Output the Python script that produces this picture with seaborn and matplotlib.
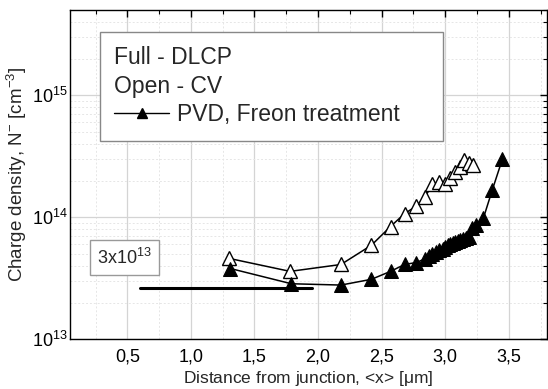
import numpy as np
import pandas as pd
import matplotlib
matplotlib.use("Agg")
import matplotlib.pyplot as plt
import seaborn as sns
from matplotlib.lines import Line2D
from matplotlib.ticker import MultipleLocator, LogLocator, NullFormatter, FuncFormatter

# CV data (open triangles)
cv_x = [1.30, 1.78, 2.18, 2.42, 2.57, 2.68, 2.77, 2.84, 2.90, 2.95, 3.00, 3.04, 3.08, 3.12, 3.15, 3.19, 3.22]
cv_n = [4.6e13, 3.6e13, 4.1e13, 5.9e13, 8.4e13, 1.07e14, 1.23e14, 1.46e14, 1.86e14, 1.96e14,
        1.86e14, 2.09e14, 2.37e14, 2.6e14, 2.96e14, 2.78e14, 2.69e14]

# DLCP data (filled triangles)
dlcp_x = [1.31, 1.79, 2.18, 2.42, 2.57, 2.68, 2.77, 2.84, 2.87, 2.90, 2.93, 2.95, 2.98, 3.00, 3.02,
          3.04, 3.06, 3.08, 3.10, 3.12, 3.14, 3.16, 3.19, 3.21, 3.24, 3.30, 3.37, 3.45]
dlcp_n = [3.8e13, 2.85e13, 2.78e13, 3.1e13, 3.6e13, 4.1e13, 4.25e13, 4.55e13, 4.8e13, 5.0e13, 5.2e13,
          5.35e13, 5.5e13, 5.7e13, 5.9e13, 6.05e13, 6.2e13, 6.3e13, 6.4e13, 6.5e13, 6.6e13, 6.8e13,
          6.9e13, 8.1e13, 8.6e13, 9.8e13, 1.67e14, 3.0e14]

# reference level line
ref_x = [0.6, 1.95]
ref_n = [2.65e13, 2.65e13]

sns.set_theme(style="white")
plt.rcParams['font.family'] = ['Liberation Sans', 'DejaVu Sans']
plt.rcParams['mathtext.default'] = 'regular'

fig = plt.figure(figsize=(5.48, 3.89), dpi=100)
ax = fig.add_axes([0.128, 0.128, 0.870, 0.846])

sns.lineplot(x=ref_x, y=ref_n, ax=ax, color='black', linewidth=2.2, estimator=None, sort=False)
sns.lineplot(x=cv_x, y=cv_n, ax=ax, color='black', linewidth=1.1, marker='^', markersize=10,
             markerfacecolor='white', markeredgecolor='black', markeredgewidth=1.0,
             estimator=None, sort=False)
sns.lineplot(x=dlcp_x, y=dlcp_n, ax=ax, color='black', linewidth=1.1, marker='^', markersize=10,
             markerfacecolor='black', markeredgecolor='black', estimator=None, sort=False)

ax.set_yscale('log')
ax.set_xlim(0.05, 3.8)
ax.set_ylim(1e13, 5e15)

ax.xaxis.set_major_locator(MultipleLocator(0.5))
ax.xaxis.set_minor_locator(MultipleLocator(0.25))
ax.xaxis.set_major_formatter(FuncFormatter(lambda v, p: f"{v:.1f}".replace('.', ',')))
ax.yaxis.set_major_locator(LogLocator(base=10))
ax.yaxis.set_minor_locator(LogLocator(base=10, subs=np.arange(2, 10)))
ax.yaxis.set_minor_formatter(NullFormatter())

ax.grid(True, which='major', color='#d4d4d4', linewidth=0.9)
ax.grid(True, which='minor', color='#e6e6e6', linewidth=0.7, linestyle=(0, (2, 2)))

ax.tick_params(which='both', direction='in', top=True, right=True, colors='black',
               labelsize=13)
ax.tick_params(axis='x', pad=7)
ax.tick_params(axis='y', pad=2)
ax.tick_params(which='major', length=5, width=1)
ax.tick_params(which='minor', length=3, width=0.8)
for s in ax.spines.values():
    s.set_color('black')
    s.set_linewidth(1)

ax.set_xlabel('Distance from junction, <x> [$\\mu$m]', fontsize=12.5, labelpad=2)
ax.set_ylabel('Charge density, N$^{-}$ [cm$^{-3}$]', fontsize=13.5, labelpad=2)

handle = Line2D([], [], color='black', linewidth=1.0, marker='^', markersize=7,
                markerfacecolor='black')
leg = ax.legend([handle], ['PVD, Freon treatment'], loc='upper left',
                bbox_to_anchor=(0.063, 0.40, 0.719, 0.533), mode='expand',
                title='Full - DLCP\nOpen - CV', alignment='left',
                fontsize=16.5, title_fontsize=16.5, frameon=True,
                fancybox=False, edgecolor='#888888', framealpha=1, handlelength=2.4,
                handletextpad=0.35, borderpad=0.62, labelspacing=0.22, borderaxespad=0)
leg.get_frame().set_linewidth(1)
leg.get_title().set_linespacing(1.33)

ax.text(0.057, 0.248, '3x10$^{13}$', transform=ax.transAxes, fontsize=13,
        va='center', ha='left',
        bbox=dict(boxstyle='square,pad=0.4', facecolor='white', edgecolor='#999999', linewidth=1))

fig.savefig('out.png', dpi=100)
